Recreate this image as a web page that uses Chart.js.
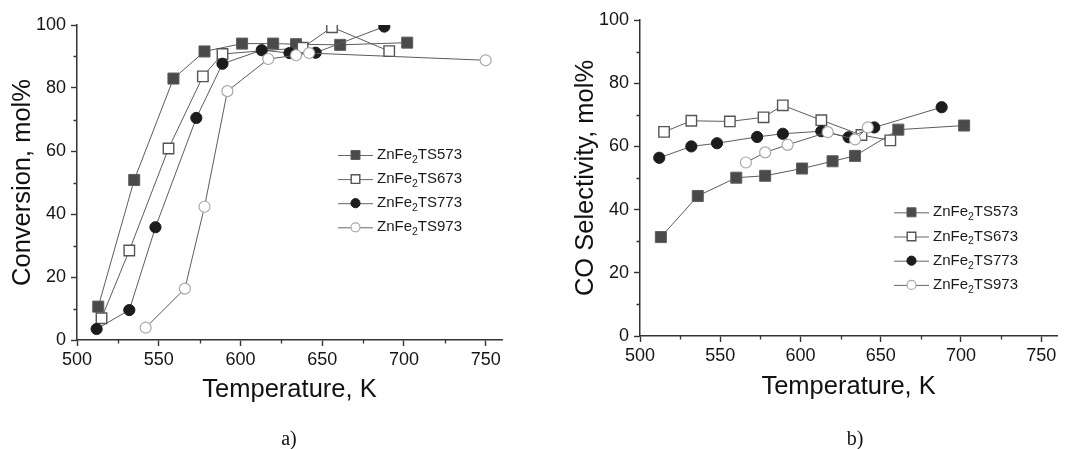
<!DOCTYPE html>
<html>
<head>
<meta charset="utf-8">
<script src="https://cdn.jsdelivr.net/npm/chart.js@4.4.1/dist/chart.umd.min.js"></script>
<style>
  html, body { margin: 0; padding: 0; background: #fff; }
  #wrap { position: relative; width: 1066px; height: 449px; overflow: hidden; }
  .cv { position: absolute; top: 0; }
  .lab { position: absolute; font-family: "Liberation Serif", "Times New Roman", serif; font-size: 20px; line-height: 20px; color: #111; width: 40px; text-align: center; }
</style>
</head>
<body>
<div id="wrap">
  <div class="cv" style="left:0;width:533px;height:449px;"><canvas id="ca"></canvas></div>
  <div class="cv" style="left:533px;width:533px;height:449px;"><canvas id="cb"></canvas></div>
  <div class="lab" style="left:269px;top:428px;">a)</div>
  <div class="lab" style="left:835px;top:428px;">b)</div>
</div>
<script>
// ---- data ----
const seriesNames = ['ZnFe2TS573', 'ZnFe2TS673', 'ZnFe2TS773', 'ZnFe2TS973'];

// panel a) conversion
const tempA573 = [513, 535, 559, 578, 601, 620, 634, 661, 702];
const convA573 = [10.6, 50.8, 83.0, 91.6, 94.1, 94.1, 93.9, 93.7, 94.4];
const tempA673 = [515, 532, 556, 577, 589, 638, 656, 691];
const convA673 = [6.9, 28.4, 60.8, 83.7, 90.8, 92.8, 99.3, 91.7];
const tempA773 = [512, 532, 548, 573, 589, 613, 630, 646, 688];
const convA773 = [3.5, 9.5, 35.8, 70.5, 87.7, 92.0, 91.1, 91.2, 99.5];
const tempA973 = [542, 566, 578, 592, 617, 634, 642, 750];
const convA973 = [3.9, 16.3, 42.3, 79.0, 89.2, 90.4, 91.1, 88.8];

// panel b) CO selectivity
const tempB573 = [513, 536, 560, 578, 601, 620, 634, 661, 702];
const selB573 = [31.3, 44.3, 50.1, 50.7, 53.0, 55.3, 57.0, 65.3, 66.6];
const tempB673 = [515, 532, 556, 577, 589, 613, 638, 656];
const selB673 = [64.6, 68.1, 67.9, 69.2, 73.0, 68.3, 63.6, 61.9];
const tempB773 = [512, 532, 548, 573, 589, 613, 630, 646, 688];
const selB773 = [56.4, 60.0, 61.0, 63.0, 64.0, 64.8, 62.9, 66.0, 72.4];
const tempB973 = [566, 578, 592, 617, 634, 642];
const selB973 = [54.9, 58.1, 60.5, 64.5, 62.2, 66.0];

const xTickValues = [500, 550, 600, 650, 700, 750];
const xMinorValues = [525, 575, 625, 675, 725];
const yTickValues = [0, 20, 40, 60, 80, 100];
const yMinorValues = [10, 30, 50, 70, 90];

// ---- styling ----
const FONT = '"Liberation Sans", Arial, sans-serif';
const AXIS = '#333333';
const styles = [
  { pointStyle: 'rect', radius: 7.8, bg: '#4a4a4a', bc: '#5e5e5e', bw: 1 },
  { pointStyle: 'rect', radius: 7.4, bg: '#ffffff', bc: '#555555', bw: 1.4 },
  { pointStyle: 'circle', radius: 5.6, bg: '#1c1c1c', bc: '#1c1c1c', bw: 1 },
  { pointStyle: 'circle', radius: 5.5, bg: '#ffffff', bc: '#a8a8a8', bw: 1.2 }
];

function makeDatasets(xs, ys) {
  return xs.map((xArr, i) => ({
    label: seriesNames[i],
    data: xArr.map((x, k) => ({ x: x, y: ys[i][k] })),
    showLine: true,
    borderColor: '#5c5c5c',
    borderWidth: 1,
    pointStyle: styles[i].pointStyle,
    pointRadius: styles[i].radius,
    pointHoverRadius: styles[i].radius,
    pointBackgroundColor: styles[i].bg,
    pointBorderColor: styles[i].bc,
    pointBorderWidth: styles[i].bw,
    order: 4 - i
  }));
}

const minorTicks = {
  id: 'minorTicks',
  afterDraw(chart) {
    const ctx = chart.ctx;
    const xs = chart.scales.x, ys = chart.scales.y;
    ctx.save();
    ctx.strokeStyle = AXIS;
    ctx.lineWidth = 1.3;
    ctx.beginPath();
    xMinorValues.forEach(v => {
      const px = Math.round(xs.getPixelForValue(v)) + 0.5;
      ctx.moveTo(px, ys.bottom);
      ctx.lineTo(px, ys.bottom + 3.5);
    });
    yMinorValues.forEach(v => {
      const py = Math.round(ys.getPixelForValue(v)) + 0.5;
      ctx.moveTo(xs.left, py);
      ctx.lineTo(xs.left - 3.5, py);
    });
    ctx.stroke();
    ctx.restore();
  }
};

const innerLegend = {
  id: 'innerLegend',
  afterDraw(chart, args, opts) {
    const ctx = chart.ctx;
    ctx.save();
    chart.data.datasets.forEach((ds, i) => {
      const y = opts.y0 + i * opts.dy;
      ctx.strokeStyle = '#666';
      ctx.lineWidth = 1;
      ctx.beginPath();
      ctx.moveTo(opts.x0, y + 0.5);
      ctx.lineTo(opts.x0 + opts.len, y + 0.5);
      ctx.stroke();
      ctx.fillStyle = ds.pointBackgroundColor;
      ctx.strokeStyle = ds.pointBorderColor;
      ctx.lineWidth = ds.pointBorderWidth;
      Chart.helpers.drawPoint(ctx, { pointStyle: ds.pointStyle, radius: ds.pointRadius * 0.82, rotation: 0, borderWidth: ds.pointBorderWidth }, opts.x0 + opts.len / 2, y);
      const m = ds.label.match(/^(ZnFe)(2)(.*)$/);
      let x = opts.x0 + opts.len + 4;
      ctx.fillStyle = '#1a1a1a';
      ctx.textBaseline = 'middle';
      ctx.textAlign = 'left';
      ctx.font = '15px ' + FONT;
      ctx.fillText(m[1], x, y);
      x += ctx.measureText(m[1]).width;
      ctx.font = '10.5px ' + FONT;
      ctx.fillText(m[2], x, y + 5);
      x += ctx.measureText(m[2]).width;
      ctx.font = '15px ' + FONT;
      ctx.fillText(m[3], x, y);
    });
    ctx.restore();
  }
};

function makeChart(id, datasets, opt) {
  return new Chart(document.getElementById(id), {
    type: 'scatter',
    data: { datasets: datasets },
    plugins: [minorTicks, innerLegend],
    options: {
      responsive: true,
      maintainAspectRatio: false,
      animation: false,
      layout: { padding: { left: 0, right: opt.padRight, top: opt.padTop, bottom: 0 } },
      plugins: {
        legend: { display: false },
        tooltip: { enabled: false },
        innerLegend: opt.legend
      },
      scales: {
        x: {
          type: 'linear',
          min: 500, max: 760,
          afterBuildTicks: s => { s.ticks = xTickValues.map(v => ({ value: v })); },
          afterFit: s => { s.height = opt.xHeight; },
          border: { color: AXIS, width: 1.5 },
          grid: { drawOnChartArea: false, drawTicks: true, tickLength: 6, tickColor: AXIS, tickWidth: 1.4 },
          ticks: { color: '#141414', font: { family: FONT, size: 18 }, padding: 3, maxRotation: 0 },
          title: { display: true, text: 'Temperature, K', color: '#111', font: { family: FONT, size: 25.5 }, padding: { top: 0, bottom: opt.xTitlePad } }
        },
        y: {
          type: 'linear',
          min: 0, max: 100,
          afterBuildTicks: s => { s.ticks = yTickValues.map(v => ({ value: v })); },
          afterFit: s => { s.width = opt.yWidth; },
          border: { color: AXIS, width: 1.5 },
          grid: { drawOnChartArea: false, drawTicks: true, tickLength: 6, tickColor: AXIS, tickWidth: 1.4 },
          ticks: { color: '#141414', font: { family: FONT, size: 18 }, padding: 5 },
          title: { display: true, text: opt.yTitle, color: '#111', font: { family: FONT, size: 25.5 }, padding: { top: opt.yTitlePad, bottom: 0 } }
        }
      }
    }
  });
}

makeChart('ca', makeDatasets([tempA573, tempA673, tempA773, tempA973], [convA573, convA673, convA773, convA973]), {
  padRight: 31, padTop: 25, xHeight: 109, yWidth: 77,
  xTitlePad: 44, yTitlePad: 8, yTitle: 'Conversion, mol%',
  legend: { x0: 338, y0: 155, dy: 24.1, len: 35 }
});

makeChart('cb', makeDatasets([tempB573, tempB673, tempB773, tempB973], [selB573, selB673, selB773, selB973]), {
  padRight: 2, padTop: 20, xHeight: 113, yWidth: 107,
  xTitlePad: 47, yTitlePad: 38, yTitle: 'CO Selectivity, mol%',
  legend: { x0: 361, y0: 212.3, dy: 24.2, len: 35 }
});
</script>
</body>
</html>
